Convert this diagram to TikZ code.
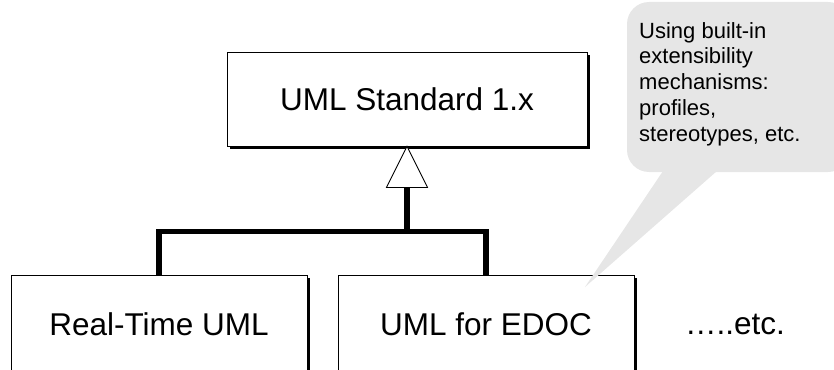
\documentclass[tikz,border=0pt]{standalone}
\usepackage{fontspec}
\setmainfont{Liberation Sans}
\usetikzlibrary{shadows,calc}
\definecolor{calloutgray}{RGB}{230,230,230}
\tikzset{
  classbox/.style={draw=black, line width=0.9pt, fill=white, inner sep=0pt,
    font=\fontsize{31.5}{36}\selectfont,
    drop shadow={shadow xshift=3pt, shadow yshift=-3pt, fill=black, opacity=1}},
  inherit/.style={line width=5.5pt, line join=miter, line cap=butt},
  genhead/.style={draw=black, line width=0.9pt, fill=white},
  notetext/.style={font=\fontsize{22}{25.8}\selectfont, align=left, inner sep=0pt}
}
\begin{document}
\begin{tikzpicture}[x=1pt,y=-1pt]
  \useasboundingbox (0,0) rectangle (834,369);
  \clip (0,0) rectangle (834,369);

  % classes
  \node[classbox, minimum width=360pt, minimum height=94pt] (std) at (407,99) {UML Standard 1.x};
  \node[classbox, minimum width=296pt, minimum height=98pt] (rt) at (159,324) {Real-Time UML};
  \node[classbox, minimum width=296pt, minimum height=98pt] (edoc) at (486,324) {UML for EDOC};
  \node[font=\fontsize{31.5}{36}\selectfont, inner sep=0pt] (etc) at (735,324) {…..etc.};

  % generalization: shared hollow triangle and tree of thick lines
  \coordinate (tribase) at ($(std.south)+(0,41)$);
  \coordinate (joint) at ($(tribase)+(0,44)$);
  \draw[inherit] (tribase) -- (joint);
  \draw[inherit] (rt.north) |- (joint) -| (edoc.north);
  \draw[genhead] (std.south) -- ($(tribase)+(-20.5,0)$) -- ($(tribase)+(20.5,0)$) -- cycle;

  % callout note
  \coordinate (tip) at (585,287);
  \fill[calloutgray] (663,171) -- (tip) -- (717,171) -- cycle;
  \fill[calloutgray, rounded corners=22pt] (627,2) rectangle (850,172);
  \node[notetext, anchor=north west] (note) at (639,22)
    {Using built-in\\extensibility\\mechanisms:\\profiles,\\stereotypes, etc.};
\end{tikzpicture}
\end{document}
